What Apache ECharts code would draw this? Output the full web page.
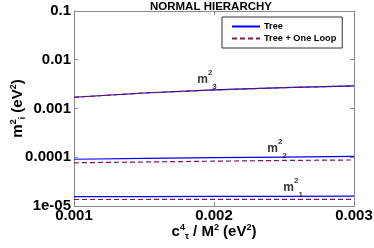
<!DOCTYPE html>
<html><head><meta charset="utf-8">
<script src="https://cdn.jsdelivr.net/npm/echarts@6/dist/echarts.min.js"></script>
<style>html,body{margin:0;padding:0;background:#fff}#c{width:374px;height:248px}</style>
</head><body><div id="c"></div>
<script>
const xValues = [0.001, 0.0015, 0.002, 0.0025, 0.003];
const m3Tree = [0.0017, 0.00208, 0.0024, 0.00268, 0.0029];
const m3Loop = [0.0017, 0.00208, 0.0024, 0.00268, 0.0029];
const m2Tree = [9.1e-5, 9.5e-5, 9.8e-5, 1.01e-4, 1.04e-4];
const m2Loop = [7.7e-5, 8.0e-5, 8.3e-5, 8.6e-5, 8.8e-5];
const m1Tree = [1.55e-5, 1.56e-5, 1.57e-5, 1.58e-5, 1.59e-5];
const m1Loop = [1.36e-5, 1.36e-5, 1.37e-5, 1.37e-5, 1.37e-5];
const yTickLabels = {"0.1": "0.1", "0.01": "0.01", "0.001": "0.001", "0.0001": "0.0001", "0.00001": "1e-05"};
const xTickLabels = ["0.001", "0.002", "0.003"];
const curveLabels = [
  {x: 0.00195, y: 0.00385, sub: "3"},
  {x: 0.00245, y: 0.000149, sub: "2"},
  {x: 0.002565, y: 2.4e-5, sub: "1"}
];
const seriesNames = ["Tree", "Tree + One Loop"];

const FONT = '"Liberation Sans", Arial, sans-serif';
const treeColor = '#0000ff';
const loopColor = '#7a1a4e';
const frame = '#888888';

function pairs(ys) { return xValues.map((x, i) => [x, ys[i]]); }
function lineSeries(name, ys, color, dashed) {
  return {
    name: name, type: 'line', data: pairs(ys), showSymbol: false, symbol: 'none',
    smooth: false, silent: true, animation: false, z: dashed ? 3 : 2,
    lineStyle: {color: color, width: 1.2, type: dashed ? [5, 3] : 'solid'},
    itemStyle: {color: color}
  };
}
const nameRich = {
  b: {fontFamily: FONT, fontSize: 15, fontWeight: 'bold', lineHeight: 18, verticalAlign: 'middle'},
  sup: {fontFamily: FONT, fontSize: 9, fontWeight: 'bold', verticalAlign: 'top', lineHeight: 10},
  sub: {fontFamily: FONT, fontSize: 9, fontWeight: 'bold', verticalAlign: 'bottom', lineHeight: 10}
};

const chart = echarts.init(document.getElementById('c'), null, {renderer: 'canvas'});
const option = {
  animation: false,
  backgroundColor: '#fff',
  title: {
    text: 'NORMAL HIERARCHY', left: 211, top: 1, textAlign: 'center', padding: 0,
    textStyle: {fontFamily: FONT, fontSize: 11.5, fontWeight: 'bold', color: '#000'}
  },
  grid: {left: 74, right: 20, top: 11, bottom: 42, containLabel: false, outerBoundsMode: 'none'},
  legend: {
    data: seriesNames, orient: 'vertical', left: 222, top: 17,
    backgroundColor: '#fff', borderColor: '#333', borderWidth: 1,
    padding: [5, 6, 5, 9], itemGap: 3, itemWidth: 28, itemHeight: 11,
    itemStyle: {opacity: 0},
    textStyle: {fontFamily: FONT, fontSize: 9.2, fontWeight: 'bold', color: '#000', padding: [0, 0, 0, -1]}
  },
  xAxis: [{
    type: 'value', min: 0.001, max: 0.003, interval: 0.001,
    name: '{b|c}{sup|4}{sub|τ}{b| / M}{sup|2}{b| (eV}{sup|2}{b|)}',
    nameLocation: 'middle', nameGap: 17, nameMoveOverlap: false,
    nameTextStyle: {fontFamily: FONT, color: '#000', rich: nameRich},
    axisLine: {show: true, lineStyle: {color: frame, width: 1}},
    axisTick: {show: true, inside: true, length: 4, lineStyle: {color: frame}},
    splitLine: {show: false},
    axisLabel: {
      fontFamily: FONT, fontSize: 15, fontWeight: 'bold', color: '#000', margin: 2,
      formatter: v => xTickLabels[Math.round(v / 0.001) - 1] || ''
    }
  }, {
    type: 'value', position: 'top', min: 0.001, max: 0.003, interval: 0.001,
    axisLine: {show: true, lineStyle: {color: frame, width: 1}},
    axisTick: {show: true, inside: true, length: 4, lineStyle: {color: frame}},
    axisLabel: {show: false}, splitLine: {show: false}
  }],
  yAxis: [{
    type: 'log', logBase: 10, min: 1e-5, max: 0.1,
    name: '{b|m}{sup|2}{sub|i}{b| (eV}{sup|2}{b|)}',
    nameLocation: 'middle', nameGap: 47, nameRotate: 90, nameMoveOverlap: false,
    nameTextStyle: {fontFamily: FONT, color: '#000', rich: nameRich},
    axisLine: {show: true, lineStyle: {color: frame, width: 1}},
    axisTick: {show: true, inside: true, length: 4, lineStyle: {color: frame}},
    minorTick: {show: false},
    splitLine: {show: false},
    axisLabel: {
      fontFamily: FONT, fontSize: 15, fontWeight: 'bold', color: '#000', margin: 3,
      formatter: v => {
        const e = Math.round(Math.log10(v));
        const key = ({'-1': '0.1', '-2': '0.01', '-3': '0.001', '-4': '0.0001', '-5': '0.00001'})[e];
        return yTickLabels[key] || '';
      }
    }
  }, {
    type: 'log', logBase: 10, min: 1e-5, max: 0.1, position: 'right',
    axisLine: {show: true, lineStyle: {color: frame, width: 1}},
    axisTick: {show: true, inside: true, length: 4, lineStyle: {color: frame}},
    axisLabel: {show: false}, splitLine: {show: false}
  }],
  series: [
    lineSeries(seriesNames[0], m3Tree, treeColor, false),
    lineSeries(seriesNames[0], m2Tree, treeColor, false),
    lineSeries(seriesNames[0], m1Tree, treeColor, false),
    lineSeries(seriesNames[1], m3Loop, loopColor, true),
    lineSeries(seriesNames[1], m2Loop, loopColor, true),
    lineSeries(seriesNames[1], m1Loop, loopColor, true),
    {
      name: 'labels', type: 'scatter', symbolSize: 0, silent: true, z: 5,
      data: curveLabels.map(l => ({value: [l.x, l.y], sub: l.sub})),
      label: {
        show: true, position: 'inside', color: '#000',
        formatter: p => '{m|m}{sup|2}{sub|' + p.data.sub + '}',
        rich: {
          m: {fontFamily: FONT, fontSize: 12, fontWeight: 'bold', lineHeight: 22, verticalAlign: 'middle'},
          sup: {fontFamily: FONT, fontSize: 8, fontWeight: 'bold', verticalAlign: 'top', lineHeight: 8},
          sub: {fontFamily: FONT, fontSize: 8, fontWeight: 'bold', verticalAlign: 'bottom', lineHeight: 8}
        }
      }
    }
  ]
};
chart.setOption(option);
</script>
</body></html>
